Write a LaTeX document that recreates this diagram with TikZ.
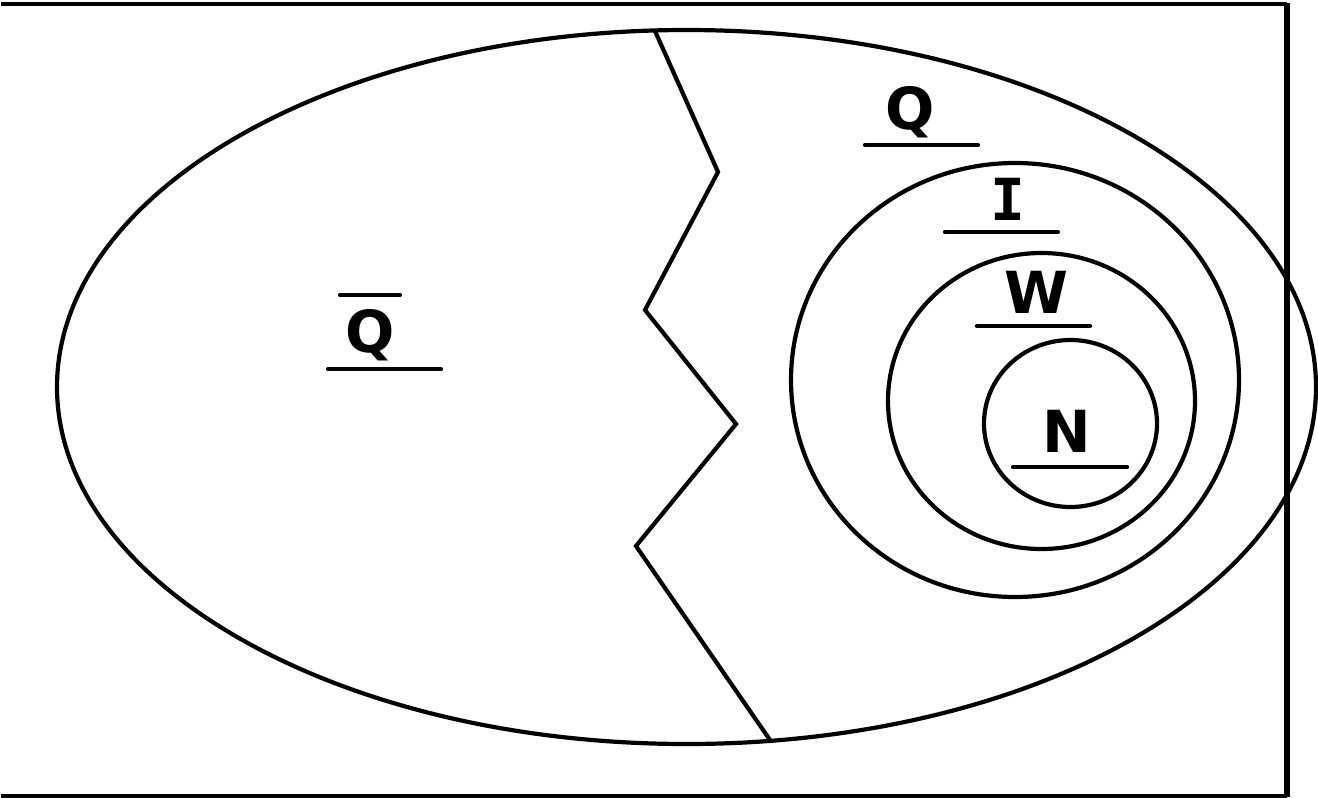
\documentclass[tikz,border=0pt]{standalone}
\usepackage{fontspec}
\newfontfamily\lblfont{DejaVu Sans}
\newfontfamily\lblmono{DejaVu Sans Mono}
\tikzset{
  ln/.style={line width=2.1pt, black},
  bar/.style={line width=2.1pt, line cap=round, black},
  lbl/.style={inner sep=0pt, font=\lblfont\bfseries\fontsize{29}{30}\selectfont},
}
\begin{document}
\begin{tikzpicture}[x=0.5pt,y=-0.5pt]
\useasboundingbox (0,0) rectangle (1318,798);
% frame
\draw[ln] (1,4) -- (1287,4);
\draw[ln] (1,796) -- (1287,796);
\draw[line width=2.6pt] (1287,3) -- (1287,797);
% big ellipse
\draw[ln] (686.5,387) ellipse [x radius=629.5, y radius=357];
% zigzag
\coordinate (z0) at (655,31);
\coordinate (z1) at (718,172);
\coordinate (z2) at (645,310);
\coordinate (z3) at (736,424);
\coordinate (z4) at (636,546);
\coordinate (z5) at (770,740);
\draw[ln, line join=miter] (z0) -- (z1) -- (z2) -- (z3) -- (z4) -- (z5);
% nested circles
\draw[ln] (1015,380) ellipse [x radius=224, y radius=217];
\draw[ln] (1041.5,401) ellipse [x radius=153.5, y radius=148];
\draw[ln] (1070.5,423.5) ellipse [x radius=86.5, y radius=83.5];
% labels
\node[lbl] (qbar) at (370,335) {Q};
\draw[bar] (340,295) -- (400,295);
\draw[bar] (328,369) -- (441,369);
\node[lbl] (q) at (910,112) {Q};
\draw[bar] (865,145) -- (978,145);
\node[lbl, font=\lblmono\bfseries\fontsize{29}{30}\selectfont] (i) at (1008,199) {I};
\draw[bar] (945,232) -- (1058,232);
\node[lbl] (w) at (1036,292) {W};
\draw[bar] (977,326) -- (1090,326);
\node[lbl] (n) at (1067,431) {N};
\draw[bar] (1013,467) -- (1127,467);
\end{tikzpicture}
\end{document}
